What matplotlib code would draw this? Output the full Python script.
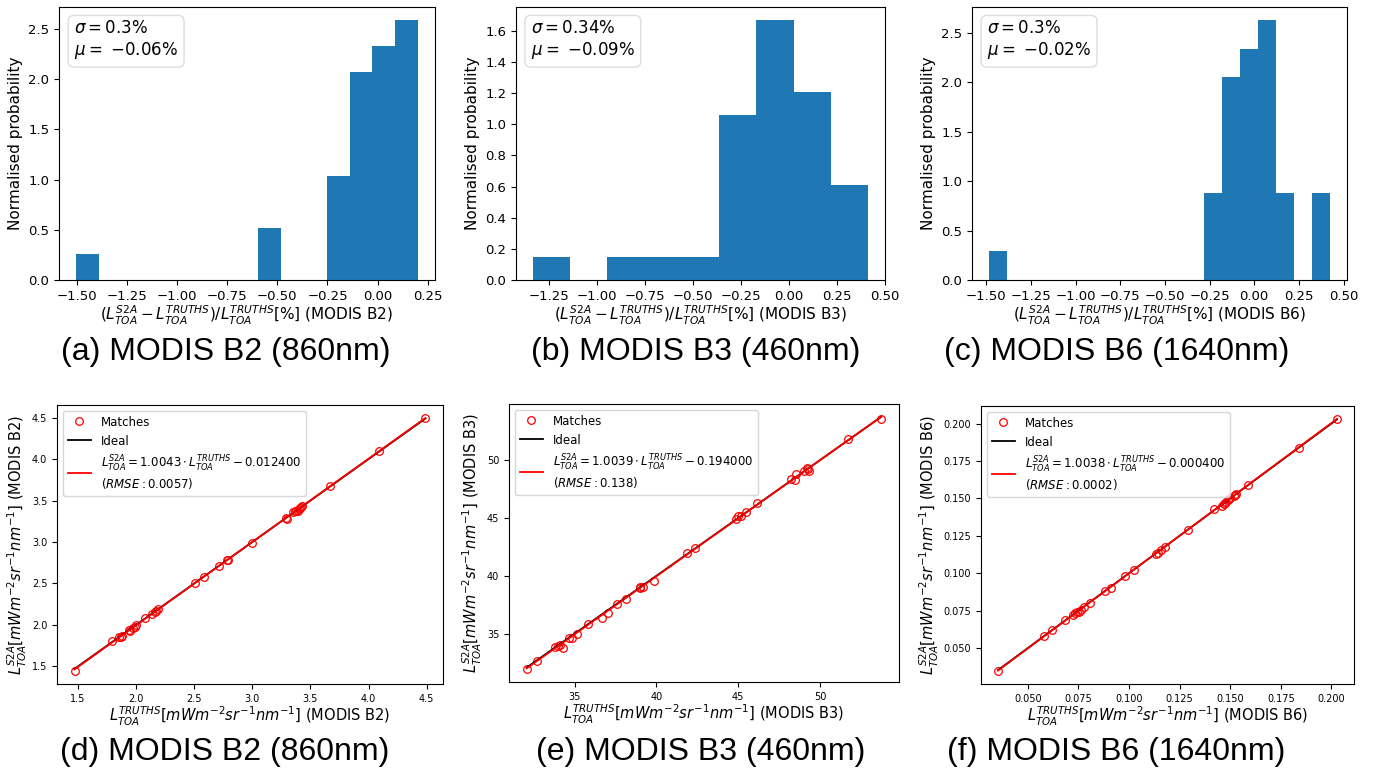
import numpy as np
import matplotlib
matplotlib.use("Agg")
import matplotlib.pyplot as plt

# ---------------- data ----------------
# Histograms (bin edges and normalised probability heights)
b2_edges = [-1.503, -1.389, -1.276, -1.162, -1.048, -0.935, -0.821, -0.708, -0.594,
            -0.480, -0.367, -0.253, -0.139, -0.026, 0.088, 0.201]
b2_heights = [0.26, 0, 0, 0, 0, 0, 0, 0, 0.52, 0, 0, 1.04, 2.07, 2.33, 2.59]
b2_sigma, b2_mu = "0.3", "-0.06"

b3_edges = [-1.332, -1.138, -0.944, -0.750, -0.556, -0.362, -0.168, 0.027, 0.221, 0.415]
b3_heights = [0.15, 0, 0.15, 0.15, 0.15, 1.06, 1.67, 1.21, 0.61]
b3_sigma, b3_mu = "0.34", "-0.09"

b6_edges = [-1.485, -1.385, -1.284, -1.184, -1.083, -0.983, -0.882, -0.782, -0.681,
            -0.581, -0.480, -0.380, -0.279, -0.179, -0.078, 0.022, 0.123, 0.223,
            0.324, 0.424]
b6_heights = [0.29, 0, 0, 0, 0, 0, 0, 0, 0, 0, 0, 0, 0.88, 2.05, 2.34, 2.63, 0.88, 0, 0.88]
b6_sigma, b6_mu = "0.3", "-0.02"

# Scatter matches (TRUTHS x, S2A y)
b2_x = [1.47, 1.79, 1.85, 1.87, 1.88, 1.94, 1.95, 1.97, 1.99, 2.00, 2.08, 2.14, 2.16, 2.17,
        2.19, 2.51, 2.58, 2.71, 2.78, 2.79, 3.00, 3.29, 3.30, 3.35, 3.37, 3.38, 3.39, 3.40,
        3.41, 3.42, 3.43, 3.67, 4.09, 4.49]
b2_y = [1.44, 1.80, 1.85, 1.86, 1.87, 1.94, 1.93, 1.96, 1.98, 2.00, 2.08, 2.13, 2.16, 2.17,
        2.19, 2.51, 2.575, 2.71, 2.78, 2.78, 2.99, 3.29, 3.28, 3.36, 3.37, 3.38, 3.38, 3.40,
        3.41, 3.42, 3.43, 3.67, 4.10, 4.50]
b2_fit = (1.0043, -0.012400, "0.0057")

b3_x = [32.07, 32.68, 33.80, 33.98, 34.10, 34.30, 34.63, 34.84, 35.12, 35.80, 36.70, 37.05,
        37.60, 38.11, 38.97, 39.00, 39.20, 39.88, 41.88, 42.37, 44.87, 45.00, 45.20, 45.50,
        46.16, 48.21, 48.45, 48.55, 49.00, 49.20, 49.25, 49.35, 51.71, 53.75]
b3_y = [31.91, 32.60, 33.85, 33.93, 34.00, 33.80, 34.63, 34.65, 35.00, 35.80, 36.33, 36.80,
        37.54, 38.00, 39.00, 38.95, 39.06, 39.53, 42.00, 42.40, 44.90, 45.16, 45.20, 45.50,
        46.30, 48.40, 48.30, 48.80, 49.10, 49.30, 49.20, 49.10, 51.80, 53.60]
b3_fit = (1.0039, -0.194000, "0.138")

b6_x = [0.0352, 0.0582, 0.0620, 0.0684, 0.0725, 0.0734, 0.0742, 0.0752, 0.0760, 0.0775,
        0.0806, 0.0882, 0.0910, 0.0982, 0.1023, 0.1132, 0.1142, 0.1160, 0.1177, 0.1290,
        0.1422, 0.1457, 0.1467, 0.1473, 0.1480, 0.1491, 0.1496, 0.1500, 0.1521, 0.1526,
        0.1529, 0.1587, 0.1839, 0.2028]
b6_y = [0.0344, 0.0582, 0.0618, 0.0687, 0.0722, 0.0733, 0.0742, 0.0744, 0.0756, 0.0771,
        0.0804, 0.0882, 0.0904, 0.0978, 0.1022, 0.1131, 0.1138, 0.1156, 0.1176, 0.1287,
        0.1427, 0.1451, 0.1462, 0.1471, 0.1478, 0.1491, 0.1496, 0.1500, 0.1516, 0.1524,
        0.1531, 0.1587, 0.1840, 0.2033]
b6_fit = (1.0038, -0.000400, "0.0002")

bands = ["B2", "B3", "B6"]
hist_captions = ["(a) MODIS B2 (860nm)", "(b) MODIS B3 (460nm)", "(c) MODIS B6 (1640nm)"]
scat_captions = ["(d) MODIS B2 (860nm)", "(e) MODIS B3 (460nm)", "(f) MODIS B6 (1640nm)"]

# ---------------- layout ----------------
W, H = 1373, 773
fig = plt.figure(figsize=(W / 100, H / 100), dpi=100)


def box(l, t, r, b):
    return [l / W, 1 - b / H, (r - l) / W, (b - t) / H]


hist_boxes = [box(59, 7, 435, 280), box(516, 7, 885, 280), box(972, 7, 1347, 280)]
scat_boxes = [box(57, 405, 443, 684), box(509, 404, 899, 682), box(981, 406, 1354, 684)]
hist_cap_x = [226, 696, 1117]
scat_cap_x = [225, 701, 1116]

hist_data = [(b2_edges, b2_heights, b2_sigma, b2_mu),
             (b3_edges, b3_heights, b3_sigma, b3_mu),
             (b6_edges, b6_heights, b6_sigma, b6_mu)]
scat_data = [(b2_x, b2_y, b2_fit), (b3_x, b3_y, b3_fit), (b6_x, b6_y, b6_fit)]

blue = "#1f77b4"

for i in range(3):
    edges, heights, sig, mu = hist_data[i]
    ax = fig.add_axes(hist_boxes[i])
    ax.hist(edges[:-1], bins=edges, weights=heights, color=blue)
    ax.set_ylabel("Normalised probability", fontsize=11)
    ax.set_xlabel(r"$(L^{S2A}_{TOA} - L^{TRUTHS}_{TOA})/L^{TRUTHS}_{TOA}[\%]$ (MODIS " + bands[i] + ")",
                  fontsize=11, labelpad=1)
    ax.tick_params(labelsize=9.5)
    ax.text(0.04, 0.955, r"$\sigma = " + sig + r"\%$" + "\n" + r"$\mu = $ $" + mu + r"\%$",
            transform=ax.transAxes, va="top", ha="left", fontsize=12,
            bbox=dict(boxstyle="round,pad=0.35", fc="white", ec="0.85", alpha=0.9))
    fig.text(hist_cap_x[i] / W, 1 - 352 / H, hist_captions[i], ha="center", va="center",
             fontsize=23, family="Liberation Sans")

for i in range(3):
    xs, ys, (slope, icpt, rmse) = scat_data[i]
    xs = np.array(xs)
    ys = np.array(ys)
    ax = fig.add_axes(scat_boxes[i])
    ax.plot(xs, ys, "o", mfc="none", mec="red", ms=5.5, mew=0.9, label="Matches")
    xr = np.array([xs.min(), xs.max()])
    ax.plot(xr, xr, color="black", lw=1.3, label="Ideal")
    fit_label = (r"$L^{S2A}_{TOA} = " + "%.4f" % slope + r" \cdot L^{TRUTHS}_{TOA} - "
                 + "%.6f" % (-icpt) + "$\n" + r"$(RMSE: " + rmse + ")$")
    ax.plot(xr, slope * xr + icpt, color="red", lw=1.3, label=fit_label)
    ax.tick_params(labelsize=7)
    ax.set_xlabel(r"$L^{TRUTHS}_{TOA}[mWm^{-2}sr^{-1}nm^{-1}]$ (MODIS " + bands[i] + ")",
                  fontsize=10.5, labelpad=1)
    ax.set_ylabel(r"$L^{S2A}_{TOA}[mWm^{-2}sr^{-1}nm^{-1}]$ (MODIS " + bands[i] + ")",
                  fontsize=10.5, labelpad=2)
    ax.legend(loc="upper left", fontsize=8.5, numpoints=1)
    fig.text(scat_cap_x[i] / W, 1 - 752 / H, scat_captions[i], ha="center", va="center",
             fontsize=23, family="Liberation Sans")

fig.savefig("out.png", dpi=100)
